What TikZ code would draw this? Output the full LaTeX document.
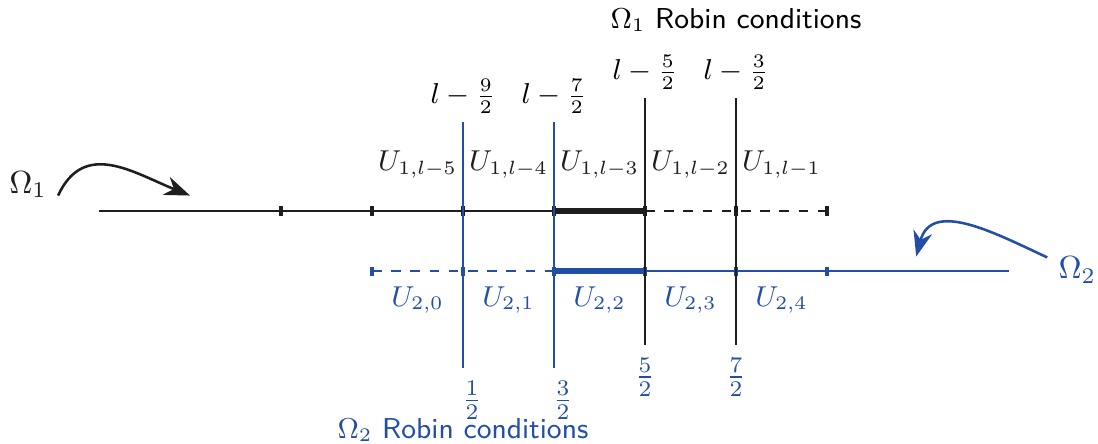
\documentclass[tikz,border=0pt]{standalone}
\usepackage{amsmath,amssymb}
\usetikzlibrary{arrows.meta}
\definecolor{domone}{RGB}{30,30,30}
\definecolor{domtwo}{RGB}{35,78,168}

\tikzset{
  tickmark/.style={line width=1.4pt},
  iface/.style={thick},
  overlap/.style={line width=2pt}
}

\begin{document}
\begin{tikzpicture}[line cap=butt,font=\small]
  \useasboundingbox (0,0) rectangle (12.066,4.879);
  \def\ya{2.56}
  \def\yb{1.90}
  \begin{scope}[shift={(3.088,0)}]
    % --- Omega_1 grid ---
    \draw[domone] (-2,\ya) -- (3,\ya);
    \draw[domone,overlap] (3,\ya) -- (4,\ya);
    \draw[domone,dashed] (4,\ya) -- (6,\ya);
    \foreach \k in {0,1,...,6}
      \draw[domone,tickmark] (\k,{\ya-0.05}) -- (\k,{\ya+0.05});

    % --- Omega_2 grid ---
    \draw[domtwo,dashed] (1,\yb) -- (3,\yb);
    \draw[domtwo,overlap] (3,\yb) -- (4,\yb);
    \draw[domtwo] (4,\yb) -- (8,\yb);
    \foreach \k in {1,2,...,6}
      \draw[domtwo,tickmark] (\k,{\yb-0.05}) -- (\k,{\yb+0.05});

    % interfaces
    \coordinate (ia) at (2,3.54); \coordinate (ia') at (2,0.835);
    \coordinate (ib) at (3,3.54); \coordinate (ib') at (3,0.835);
    \coordinate (ic) at (4,3.80); \coordinate (ic') at (4,1.088);
    \coordinate (id) at (5,3.80); \coordinate (id') at (5,1.088);
    \draw[domtwo,iface] (ia) -- (ia');
    \draw[domtwo,iface] (ib) -- (ib');
    \draw[domone,iface] (ic) -- (ic');
    \draw[domone,iface] (id) -- (id');

    % labels above
    \node[anchor=south,inner sep=2.5pt] (la) at (ia) {$l-\frac{9}{2}$};
    \node[anchor=south,inner sep=2.5pt] (lb) at (ib) {$l-\frac{7}{2}$};
    \node[anchor=south,inner sep=2.5pt] (lc) at (ic) {$l-\frac{5}{2}$};
    \node[anchor=south,inner sep=2.5pt] (ld) at (id) {$l-\frac{3}{2}$};
    \node (rob1) at (5,4.66) {$\Omega_1$ \textsf{Robin conditions}};

    % cell names
    \foreach \k/\s in {1/5,2/4,3/3,4/2,5/1}
      \node[domone] (u1\k) at ({\k+0.5},3.07) {$U_{1,l-\s}$};
    \foreach \k in {0,1,...,4}
      \node[domtwo] (u2\k) at ({\k+1.5},1.58) {$U_{2,\k}$};

    % labels below
    \node[domtwo,font=\normalsize] (fa) at (2.1,0.48) {$\frac{1}{2}$};
    \node[domtwo,font=\normalsize] (fb) at (3.1,0.48) {$\frac{3}{2}$};
    \node[domtwo,font=\normalsize] (fc) at (4,0.736) {$\frac{5}{2}$};
    \node[domtwo,font=\normalsize] (fd) at (5,0.736) {$\frac{7}{2}$};
    \node[domtwo] (rob2) at (2,0.154) {$\Omega_2$ \textsf{Robin conditions}};

    % subdomains
    \node[domone,font=\normalsize] (om1) at (-2.78,2.85) {$\Omega_1$};
    \node[domtwo,font=\normalsize] (om2) at (8.75,1.91) {$\Omega_2$};
    \coordinate (a1) at (-1.0,2.73);
    \coordinate (a2) at (6.98,2.06);
    \draw[domone,thick,-{Stealth[length=8pt]}] ([yshift=-0.12cm]om1.east) to[out=65,in=158,looseness=1.2] (a1);
    \draw[domtwo,thick,-{Stealth[length=8pt]}] ([yshift=0.14cm]om2.west) to[out=155,in=75,looseness=1.15] (a2);
  \end{scope}
\end{tikzpicture}
\end{document}
